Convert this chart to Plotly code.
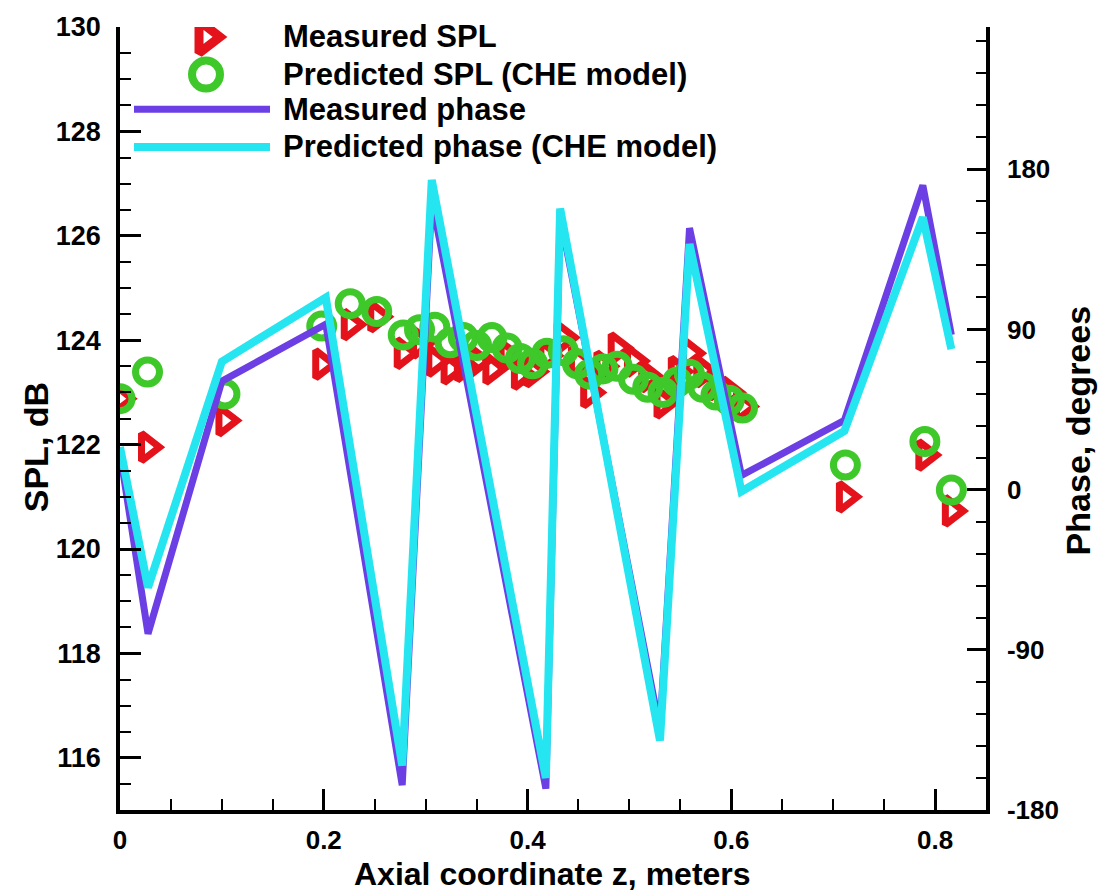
import plotly.graph_objects as go

# Axial positions (m) of the SPL measurement / prediction points
z_spl = [0.0, 0.027, 0.103, 0.198, 0.226, 0.252, 0.278, 0.294, 0.309, 0.324,
         0.337, 0.350, 0.365, 0.380, 0.393, 0.405, 0.419, 0.435, 0.449, 0.461,
         0.474, 0.488, 0.504, 0.518, 0.533, 0.547, 0.559, 0.572, 0.585, 0.598,
         0.611, 0.712, 0.790, 0.816]

spl_measured = [122.88, 121.95, 122.46, 123.54, 124.30, 124.45, 123.75, 123.95,
                123.60, 123.45, 123.50, 123.60, 123.45, 123.70, 123.35, 123.40,
                123.70, 124.05, 123.60, 123.00, 123.50, 123.85, 123.60, 123.30,
                122.80, 123.40, 123.75, 123.40, 123.15, 123.00, 122.73, 121.00,
                121.80, 120.73]

spl_predicted = [122.88, 123.39, 122.97, 124.27, 124.70, 124.55, 124.10, 124.20,
                 124.25, 123.95, 124.05, 123.90, 124.05, 123.85, 123.65, 123.55,
                 123.75, 123.80, 123.55, 123.35, 123.45, 123.50, 123.25, 123.10,
                 123.00, 123.20, 123.35, 123.10, 122.95, 122.85, 122.70, 121.61,
                 122.06, 121.13]

# Phase curves (degrees) at the phase probe positions
z_phase = [0.0, 0.0275, 0.100, 0.202, 0.277, 0.306, 0.418, 0.432, 0.530,
           0.559, 0.610, 0.711, 0.788, 0.816]
phase_measured = [21, -81, 61, 93, -166, 163, -168, 154, -135, 147, 8, 39, 171, 87]
phase_predicted = [24, -55, 72, 108, -155, 174, -162, 158, -141, 138, -1, 33, 153, 79]

RED = "#e3121b"
GREEN = "#3ec82a"
PURPLE = "#6b3fe3"
CYAN = "#25e6f0"

W, H = 1106, 893
L, R, T, B = 120, 120, 20, 83
PW, PH = W - L - R, H - T - B

FONT = "Liberation Sans, Arial, sans-serif"


def px_x(px):
    """Page x pixel -> paper fraction."""
    return (px - L) / PW


def px_y(py):
    """Page y pixel -> paper fraction."""
    return (H - B - py) / PH


fig = go.Figure()

fig.add_trace(go.Scatter(
    x=z_spl, y=spl_measured, mode="markers", name="Measured SPL",
    marker=dict(symbol="triangle-right-open", size=24, color=RED,
                line=dict(width=7, color=RED)),
    xaxis="x", yaxis="y", showlegend=False))

fig.add_trace(go.Scatter(
    x=z_spl, y=spl_predicted, mode="markers", name="Predicted SPL (CHE model)",
    marker=dict(symbol="circle-open", size=24, color=GREEN,
                line=dict(width=7, color=GREEN)),
    xaxis="x", yaxis="y", showlegend=False))

fig.add_trace(go.Scatter(
    x=z_phase, y=phase_measured, mode="lines", name="Measured phase",
    line=dict(color=PURPLE, width=7), xaxis="x", yaxis="y2", showlegend=False))

fig.add_trace(go.Scatter(
    x=z_phase, y=phase_predicted, mode="lines", name="Predicted phase (CHE model)",
    line=dict(color=CYAN, width=8), xaxis="x", yaxis="y2", showlegend=False))

# Legend drawn on an overlay axis whose units are page pixels
legend_items = [
    ("Measured SPL", "marker", dict(symbol="triangle-right-open", size=28, color=RED,
                                    line=dict(width=9, color=RED)), 30),
    ("Predicted SPL (CHE model)", "marker", dict(symbol="circle-open", size=28, color=GREEN,
                                                 line=dict(width=8, color=GREEN)), 68),
    ("Measured phase", "line", dict(color=PURPLE, width=7), 103),
    ("Predicted phase (CHE model)", "line", dict(color=CYAN, width=8), 141),
]
annotations = []
for label, kind, style, ypx in legend_items:
    if kind == "marker":
        fig.add_trace(go.Scatter(x=[206], y=[ypx], mode="markers", marker=style,
                                 xaxis="x3", yaxis="y3", showlegend=False,
                                 hoverinfo="skip"))
    else:
        fig.add_trace(go.Scatter(x=[134, 270], y=[ypx, ypx], mode="lines", line=style,
                                 xaxis="x3", yaxis="y3", showlegend=False,
                                 hoverinfo="skip"))
    annotations.append(dict(x=px_x(281), y=px_y(ypx), xref="paper", yref="paper",
                            text=label, showarrow=False, xanchor="left",
                            yanchor="middle",
                            font=dict(family=FONT, size=31, color="black",
                                      weight="bold")))

# Axis titles
annotations.append(dict(x=px_x(552), y=px_y(875), xref="paper", yref="paper",
                        text="Axial coordinate z, meters", showarrow=False,
                        xanchor="center", yanchor="middle",
                        font=dict(family=FONT, size=32, color="black", weight="bold")))
annotations.append(dict(x=px_x(36), y=px_y(444), xref="paper", yref="paper",
                        text="SPL, dB", showarrow=False, textangle=-90,
                        xanchor="center", yanchor="middle",
                        font=dict(family=FONT, size=34, color="black", weight="bold")))
annotations.append(dict(x=px_x(1078), y=px_y(428), xref="paper", yref="paper",
                        text="Phase, degrees", showarrow=False, textangle=-90,
                        xanchor="center", yanchor="middle",
                        font=dict(family=FONT, size=34, color="black", weight="bold")))

fig.update_layout(
    width=W, height=H,
    margin=dict(l=L, r=R, t=T, b=B, pad=0),
    paper_bgcolor="white", plot_bgcolor="white",
    annotations=annotations,
    xaxis=dict(
        range=[0, 0.85], tickvals=[0, 0.2, 0.4, 0.6, 0.8],
        ticktext=["0", "0.2", "0.4", "0.6", "0.8"],
        ticks="inside", ticklen=21, tickwidth=3, tickcolor="black",
        minor=dict(dtick=0.05, tick0=0, ticks="inside", ticklen=11,
                   tickwidth=1.5, tickcolor="black"),
        showline=True, linecolor="black", linewidth=3.5, mirror=False,
        showgrid=False, zeroline=False,
        tickfont=dict(family=FONT, size=26, color="black", weight="bold"),
        ticklabelstandoff=4),
    yaxis=dict(
        range=[115, 130], tickvals=list(range(116, 131, 2)),
        ticks="inside", ticklen=21, tickwidth=3, tickcolor="black",
        minor=dict(dtick=0.5, tick0=115, ticks="inside", ticklen=11,
                   tickwidth=1.5, tickcolor="black"),
        showline=True, linecolor="black", linewidth=3.5,
        showgrid=False, zeroline=False,
        tickfont=dict(family=FONT, size=27, color="black", weight="bold"),
        ticklabelstandoff=10),
    yaxis2=dict(
        range=[-180, 260], overlaying="y", side="right",
        tickvals=[-180, -90, 0, 90, 180],
        ticktext=["-180", "-90", "0", "90", "180"],
        ticks="inside", ticklen=19, tickwidth=3, tickcolor="black",
        minor=dict(dtick=18, tick0=-180, ticks="inside", ticklen=10,
                   tickwidth=1.5, tickcolor="black"),
        showline=True, linecolor="black", linewidth=3.5,
        showgrid=False, zeroline=False,
        tickfont=dict(family=FONT, size=26, color="black", weight="bold"),
        ticklabelstandoff=12),
    xaxis3=dict(range=[L, W - R], overlaying="x", visible=False,
                showgrid=False, zeroline=False, fixedrange=True),
    yaxis3=dict(range=[H - B, T], overlaying="y", visible=False,
                showgrid=False, zeroline=False, fixedrange=True),
)

fig.write_html("out.html")
